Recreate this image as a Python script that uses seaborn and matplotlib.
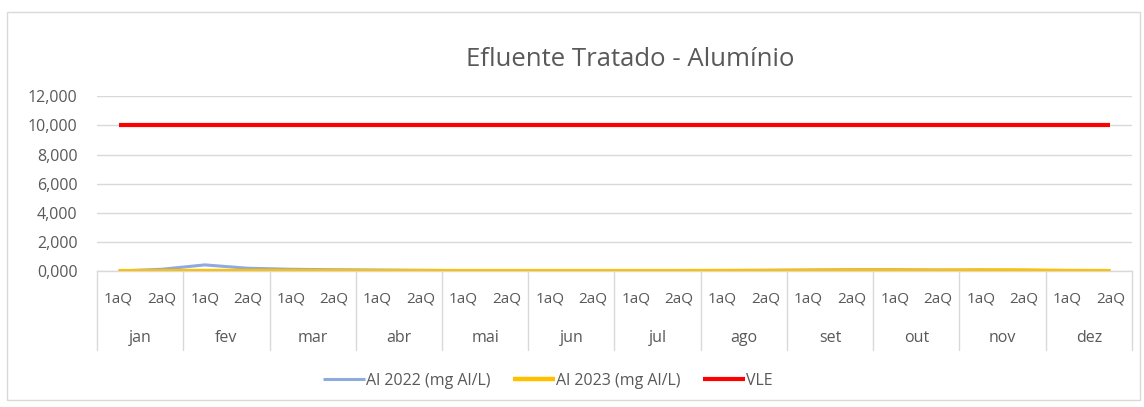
import numpy as np
import pandas as pd
import matplotlib
matplotlib.use("Agg")
import matplotlib.pyplot as plt
import matplotlib.transforms as mtransforms
from matplotlib.patches import Rectangle
import seaborn as sns

# ---- data ----
months = ["jan", "fev", "mar", "abr", "mai", "jun", "jul", "ago", "set", "out", "nov", "dez"]
halves = ["1aQ", "2aQ"]
al_2022 = [0.03, 0.15, 0.45, 0.22, 0.15, 0.12, 0.10, 0.08, 0.06, 0.05, 0.05, 0.05,
           0.05, 0.05, 0.06, 0.08, 0.10, 0.12, 0.12, 0.10, 0.10, 0.08, 0.05, 0.05]
al_2023 = [0.02, 0.02, 0.03, 0.03, 0.03, 0.03, 0.02, 0.02, 0.02, 0.02, 0.02, 0.02,
           0.02, 0.02, 0.03, 0.03, 0.04, 0.05, 0.05, 0.04, 0.06, 0.06, 0.03, 0.02]
vle = [10.0] * 24
series_names = ["Al 2022 (mg Al/L)", "Al 2023 (mg Al/L)", "VLE"]
title = "Efluente Tratado - Alumínio"
yticks = [0, 2, 4, 6, 8, 10, 12]

colors = {"Al 2022 (mg Al/L)": "#8FAADC", "Al 2023 (mg Al/L)": "#FFC000", "VLE": "#FF0000"}
widths = {"Al 2022 (mg Al/L)": 2.2, "Al 2023 (mg Al/L)": 3.2, "VLE": 3.0}

n = len(months) * len(halves)
idx = np.arange(n)
df = pd.concat([
    pd.DataFrame({"x": idx, "valor": al_2022, "serie": series_names[0]}),
    pd.DataFrame({"x": idx, "valor": al_2023, "serie": series_names[1]}),
    pd.DataFrame({"x": idx, "valor": vle, "serie": series_names[2]}),
])

sns.set_theme(style="white")
plt.rcParams["font.family"] = ["Open Sans", "DejaVu Sans"]
txt = "#595959"
grid = "#D9D9D9"

fig = plt.figure(figsize=(11.44, 4.07), dpi=100)
ax = fig.add_axes([0.0848, 0.333, 0.9895 - 0.0848, 0.764 - 0.333])

for s in series_names:
    sub = df[df["serie"] == s]
    sns.lineplot(data=sub, x="x", y="valor", ax=ax, color=colors[s],
                 linewidth=widths[s], label=s, legend=False,
                 solid_capstyle="butt", zorder=3)

ax.set_xlim(-0.5, n - 0.5)
ax.set_ylim(0, 12)
ax.set_yticks(yticks)
ax.set_yticklabels([f"{v:.3f}".replace(".", ",") for v in yticks], color=txt, fontsize=11.5)
ax.tick_params(axis="y", length=0, pad=14)
ax.set_xticks([])
ax.set_xlabel("")
ax.set_ylabel("")
for sp in ["left", "right", "top"]:
    ax.spines[sp].set_visible(False)
ax.spines["bottom"].set_color(grid)
ax.spines["bottom"].set_linewidth(1)
ax.yaxis.grid(True, color=grid, linewidth=1)
ax.set_axisbelow(True)

# multi-level category axis
trans = mtransforms.blended_transform_factory(ax.transData, fig.transFigure)
y_sub = 1 - 299 / 407
y_mon = 1 - 338 / 407
y_sep_bot = 1 - 350 / 407
y_axis = 0.333
for i in range(n):
    ax.text(i, y_sub, halves[i % 2], transform=trans, ha="center", va="center",
            fontsize=11, color=txt)
for m, name in enumerate(months):
    ax.text(2 * m + 0.5, y_mon, name, transform=trans, ha="center", va="center",
            fontsize=11.5, color=txt)
for m in range(len(months) + 1):
    xb = 2 * m - 0.5
    ax.plot([xb, xb], [y_axis, y_sep_bot], transform=trans, color=grid,
            linewidth=1, clip_on=False)

fig.text(0.551, 1 - 60 / 407, title, ha="center", va="center", fontsize=18.5, color=txt)

handles, labels = ax.get_legend_handles_labels()
fig.legend(handles, labels, loc="center", bbox_to_anchor=(0.479, 1 - 381 / 407),
           ncol=3, frameon=False, fontsize=11.5, labelcolor=txt,
           handlelength=2.6, handletextpad=0.1, columnspacing=1.4)

fig.patches.append(Rectangle((7 / 1144, 1 - 400 / 407), (1140 - 7) / 1144, (400 - 12) / 407,
                             transform=fig.transFigure, fill=False,
                             edgecolor=grid, linewidth=1))

fig.savefig("out.png", dpi=100, facecolor="white")
